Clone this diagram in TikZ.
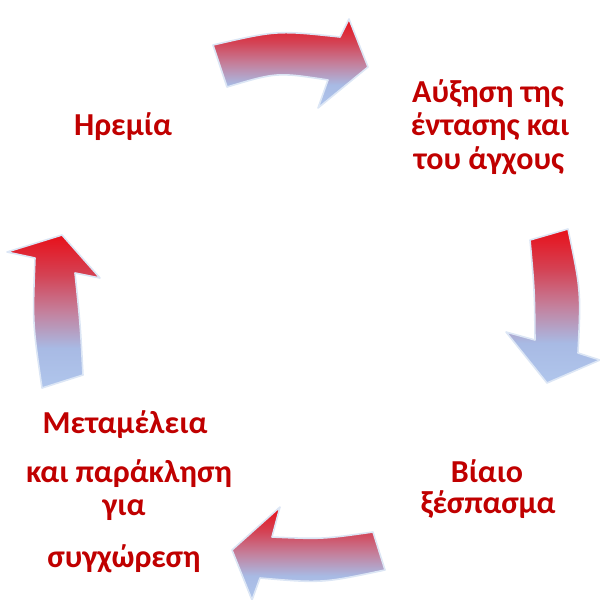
\documentclass[tikz,border=0pt]{standalone}
\usepackage{fontspec}
\setmainfont{Carlito}
\definecolor{txtred}{HTML}{C00000}
\definecolor{arredge}{HTML}{DCE6F5}
\pgfdeclareverticalshading{redblue}{100bp}{%
  color(0bp)=(rgb,255:red,176;green,198;blue,236);
  color(25bp)=(rgb,255:red,176;green,198;blue,236);
  color(38bp)=(rgb,255:red,168;green,186;blue,228);
  color(50bp)=(rgb,255:red,196;green,128;blue,156);
  color(62bp)=(rgb,255:red,212;green,66;blue,84);
  color(75bp)=(rgb,255:red,232;green,16;blue,26);
  color(100bp)=(rgb,255:red,232;green,16;blue,26)}
\tikzset{
  blockarrow/.style={shading=redblue, draw=arredge, line width=1.6pt, line join=round},
  lbl/.style={text=txtred, font=\fontsize{32}{36}\selectfont\bfseries, anchor=base, inner sep=0pt},
}
\begin{document}
\begin{tikzpicture}[x=1pt,y=-1pt]
\useasboundingbox (0,0) rectangle (600,600);
% top arrow
\path[blockarrow] (213,45) .. controls (277,30.3) .. (340,37) -- (349,19) -- (368,67)
  -- (318,108) -- (328,80) .. controls (276.8,72.2) .. (227,87) -- cycle;
% right arrow
\path[blockarrow] (530,240) -- (568,229) .. controls (581,291) .. (578,353) -- (600,360)
  -- (547,383) -- (506,332) -- (535,340) .. controls (534.5,290) .. cycle;
% bottom arrow
\path[blockarrow] (385,570) -- (373,532) .. controls (321.8,539.2) .. (272,537) -- (280,507)
  -- (232,550) -- (252,600) -- (260,578) .. controls (321.8,583.3) .. cycle;
% left arrow
\path[blockarrow] (42,388) -- (83,375) .. controls (80.3,324) .. (75,273) -- (100,278)
  -- (62,235) -- (7,252) -- (35,258) .. controls (32.5,323) .. cycle;
% labels
\node[lbl] (calm) at (123,135) {Ηρεμία};
\node[lbl] (t1) at (488,102) {Αύξηση της};
\node[lbl] (t2) at (490,135) {έντασης και};
\node[lbl] (t3) at (489,169) {του άγχους};
\node[lbl] (b1) at (487,482) {Βίαιο};
\node[lbl] (b2) at (488,513) {ξέσπασμα};
\node[lbl] (m1) at (125,433) {Μεταμέλεια};
\node[lbl] (m2) at (129,482) {και παράκληση};
\node[lbl] (m3) at (124,515) {για};
\node[lbl] (m4) at (124,567) {συγχώρεση};
\end{tikzpicture}
\end{document}
